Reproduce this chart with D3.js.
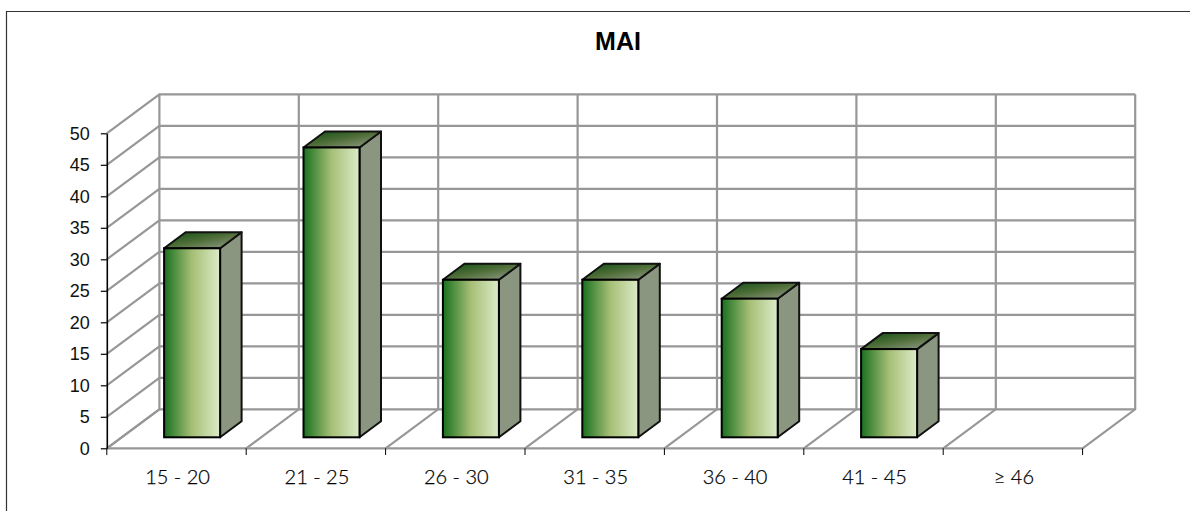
<!DOCTYPE html>
<html><head><meta charset="utf-8">
<script src="https://cdnjs.cloudflare.com/ajax/libs/d3/7.8.5/d3.min.js"></script>
<style>html,body{margin:0;padding:0;background:#fff;overflow:hidden}svg{display:block}</style></head>
<body><svg id="c" width="1190" height="511"></svg>
<script>
const categories=["15 - 20","21 - 25","26 - 30","31 - 35","36 - 40","41 - 45","≥ 46"];
const values=[30,46,25,25,22,14,0];
const yTicks=[0,5,10,15,20,25,30,35,40,45,50];
const titleText="MAI";
const svg=d3.select("#c");
const defs=svg.append("defs");
const gf=defs.append("linearGradient").attr("id","front");
[[0,"#19701f"],[0.5,"#a6bf76"],[1,"#dcebc8"]].forEach(s=>gf.append("stop").attr("offset",s[0]).attr("stop-color",s[1]));
const gt=defs.append("linearGradient").attr("id","top").attr("x1",0.1).attr("x2",0.95).attr("y1",0).attr("y2",0.9);
[[0,"#145018"],[0.5,"#4f6e38"],[1,"#8f9985"]].forEach(s=>gt.append("stop").attr("offset",s[0]).attr("stop-color",s[1]));
svg.append("path").attr("d","M1190,11.5H6.5V511").attr("fill","none").attr("stroke","#333").attr("stroke-width",1.2);
const x=d3.scaleBand().domain(categories).range([106.8,1082.6]);
const y=d3.scaleLinear().domain([0,50]).range([448.3,133.3]);
const dx=52.6,dy=-39;
const grid="#979797";
const gg=svg.append("g").attr("fill","none").attr("stroke",grid).attr("stroke-width",2.2);
yTicks.forEach(t=>{
  gg.append("path").attr("d",d3.line()([[x.range()[0],y(t)],[x.range()[0]+dx,y(t)+dy],[x.range()[1]+dx,y(t)+dy]]));
});
const edges=categories.map(c=>x(c)).concat([x.range()[1]]);
edges.forEach(e=>{
  gg.append("path").attr("d",d3.line()([[e,y(0)],[e+dx,y(0)+dy],[e+dx,y(50)+dy]]));
});
gg.append("path").attr("d",d3.line()([[x.range()[0],y(0)],[x.range()[1],y(0)]]));
// bars
const bw=56,bdx=21.5,bdy=-16,inX=57.3,inY=-11;
const bars=svg.append("g").selectAll("g").data(categories.map((c,i)=>({c,v:values[i]})).filter(d=>d.v>0)).join("g");
bars.each(function(d){
  const g=d3.select(this);
  const l=x(d.c)+inX,r=l+bw,b=y(0)+inY,t=y(d.v)+inY;
  const line=d3.line();
  g.append("path").attr("d",line([[r,b],[r+bdx,b+bdy],[r+bdx,t+bdy],[r,t]])+"Z").attr("fill","#8b9680").attr("stroke","#111").attr("stroke-width",2).attr("stroke-linejoin","round");
  g.append("path").attr("d",line([[l,t],[l+bdx,t+bdy],[r+bdx,t+bdy],[r,t]])+"Z").attr("fill","url(#top)").attr("stroke","#111").attr("stroke-width",2).attr("stroke-linejoin","round");
  g.append("rect").attr("x",l).attr("y",t).attr("width",bw).attr("height",b-t).attr("fill","url(#front)").attr("stroke","#000").attr("stroke-width",2);
});
// axes
const yAxis=d3.axisLeft(y).tickValues(yTicks).tickSize(6).tickSizeOuter(0).tickPadding(11);
const ya=svg.append("g").attr("transform","translate(106.8,0)").call(yAxis);
ya.select(".domain").attr("stroke","#000").attr("stroke-width",1.6);
ya.selectAll(".tick line").attr("stroke","#000").attr("stroke-width",1.2);
ya.selectAll("text").attr("font-family","Liberation Sans, Arial, sans-serif").attr("font-size",18).attr("fill","#111");
const xa=svg.append("g").attr("transform","translate(1,448.3)").call(d3.axisBottom(x).tickSize(0).tickPadding(21.5));
xa.select(".domain").remove();
xa.selectAll("text").attr("font-family","Lato, sans-serif").attr("font-weight",300).attr("font-size",20).attr("fill","#000").attr("stroke","#000").attr("stroke-width",0.25);
svg.append("g").selectAll("line").data(edges).join("line").attr("x1",d=>d).attr("x2",d=>d).attr("y1",448.3).attr("y2",455).attr("stroke","#000").attr("stroke-width",1);
svg.append("text").attr("x",618).attr("y",49.5).attr("text-anchor","middle").attr("font-family","Liberation Sans, Arial, sans-serif").attr("font-weight","bold").attr("font-size",25).attr("fill","#000").text(titleText);
</script></body></html>
